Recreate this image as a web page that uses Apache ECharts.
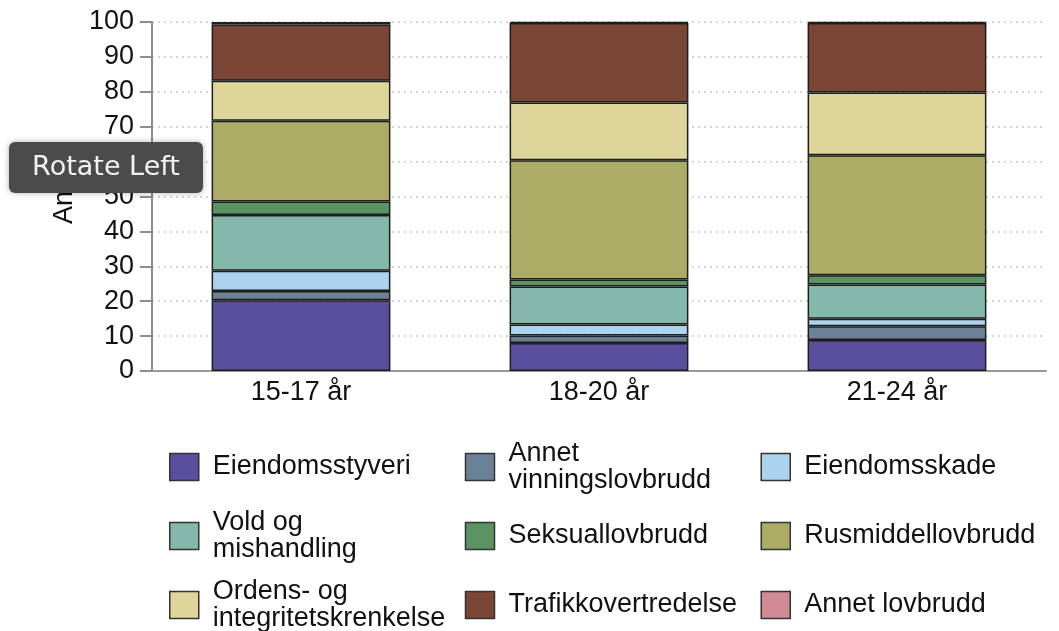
<!DOCTYPE html>
<html>
<head>
<meta charset="utf-8">
<title>Andel lovbrudd etter alder</title>
<script src="https://cdn.jsdelivr.net/npm/echarts@6/dist/echarts.min.js"></script>
<style>
  html, body { margin: 0; padding: 0; background: #fff; }
  #chart { width: 1059px; height: 631px; }
</style>
</head>
<body>
<div id="chart"></div>
<script>
// kategorier (x-akse)
var categories = ['15-17 år', '18-20 år', '21-24 år']
var yTicks = [0, 10, 20, 30, 40, 50, 60, 70, 80, 90, 100]

// andel per lovbruddstype, lest av bildet
var eiendomsstyveri = [20.3, 8.0, 8.9]
var annetVinning = [2.6, 2.2, 3.9]
var eiendomsskade = [5.8, 3.1, 2.2]
var voldMishandling = [16.0, 10.9, 9.8]
var seksuallovbrudd = [3.9, 2.0, 2.6]
var rusmiddel = [23.1, 34.2, 34.4]
var ordensIntegritet = [11.5, 16.5, 18.0]
var trafikk = [16.1, 22.8, 19.9]
var annetLovbrudd = [0.7, 0.3, 0.3]

var seriesNames = [
  'Eiendomsstyveri', 'Annet vinningslovbrudd', 'Eiendomsskade',
  'Vold og mishandling', 'Seksuallovbrudd', 'Rusmiddellovbrudd',
  'Ordens- og integritetskrenkelse', 'Trafikkovertredelse', 'Annet lovbrudd'
]
var seriesData = [
  eiendomsstyveri, annetVinning, eiendomsskade,
  voldMishandling, seksuallovbrudd, rusmiddel,
  ordensIntegritet, trafikk, annetLovbrudd
]
var colors = [
  '#5a4f9d', '#6b8196', '#acd3ee',
  '#84b8aa', '#5a9463', '#acac66',
  '#ded59a', '#7a4636', '#d08a94'
]
// linjeskift i legenden
var legendLabels = {
  'Annet vinningslovbrudd': 'Annet\nvinningslovbrudd',
  'Vold og mishandling': 'Vold og\nmishandling',
  'Ordens- og integritetskrenkelse': 'Ordens- og\nintegritetskrenkelse'
}

var fontFamily = '"Liberation Sans", Arial, Helvetica, sans-serif'

function makeLegend(names, top) {
  return {
    orient: 'horizontal',
    left: 169,
    top: top,
    padding: 0,
    itemGap: 6,
    itemWidth: 29,
    itemHeight: 27,
    icon: 'rect',
    selectedMode: false,
    data: names,
    itemStyle: {
      borderColor: '#333',
      borderWidth: 1.5
    },
    formatter: function(name) {
      return legendLabels[name] || name
    },
    textStyle: {
      color: '#111',
      fontSize: 27,
      fontFamily: fontFamily,
      lineHeight: 27,
      width: 246,
      padding: [0, 0, 0, 9]
    }
  }
}

var chart = echarts.init(document.getElementById('chart'), null, { renderer: 'canvas' })

var series = []
seriesNames.forEach(function(name, i) {
  series.push({
    name: name,
    type: 'bar',
    stack: 'total',
    barWidth: '60%',
    data: seriesData[i],
    itemStyle: {
      color: colors[i],
      borderColor: '#1e1e1e',
      borderWidth: 1.5
    }
  })
})

var option = {
  backgroundColor: '#ffffff',
  animation: false,
  textStyle: { fontFamily: fontFamily },
  grid: {
    left: 152,
    right: 13,
    top: 22,
    bottom: 260,
    containLabel: false
  },
  legend: [
    makeLegend(seriesNames.slice(0, 3), 440),
    makeLegend(seriesNames.slice(3, 6), 509),
    makeLegend(seriesNames.slice(6, 9), 578)
  ],
  xAxis: {
    type: 'category',
    data: categories,
    axisLine: {
      lineStyle: { color: '#999', width: 2 }
    },
    axisTick: { show: false },
    axisLabel: {
      color: '#111',
      fontSize: 27,
      margin: 8
    }
  },
  yAxis: {
    type: 'value',
    min: yTicks[0],
    max: yTicks[yTicks.length - 1],
    interval: 10,
    name: 'Andel',
    nameLocation: 'middle',
    nameGap: 71,
    nameTextStyle: {
      color: '#111',
      fontSize: 27,
      padding: [0, 0, 0, 14]
    },
    axisLine: {
      show: true,
      lineStyle: { color: '#8c8c8c', width: 2 }
    },
    axisTick: {
      show: true,
      length: 12,
      lineStyle: { color: '#8c8c8c', width: 2 }
    },
    axisLabel: {
      color: '#111',
      fontSize: 27,
      margin: 18
    },
    splitLine: {
      show: true,
      lineStyle: { color: '#c8c8c8', type: [2, 4], width: 1.5 }
    }
  },
  // verktøytips fra skjermbildet
  graphic: [{
    type: 'group',
    left: 9,
    top: 142,
    z: 100,
    children: [{
      type: 'rect',
      z: 100,
      shape: { x: 0, y: 0, width: 194, height: 51, r: 6 },
      style: {
        fill: '#4b4b4b',
        shadowBlur: 6,
        shadowColor: 'rgba(0,0,0,0.3)'
      }
    }, {
      type: 'text',
      z: 101,
      x: 97,
      y: 26,
      style: {
        text: 'Rotate Left',
        fill: '#f2f2f2',
        font: '27px "DejaVu Sans", sans-serif',
        align: 'center',
        verticalAlign: 'middle'
      }
    }]
  }],
  series: series
}

chart.setOption(option)
</script>
</body>
</html>
